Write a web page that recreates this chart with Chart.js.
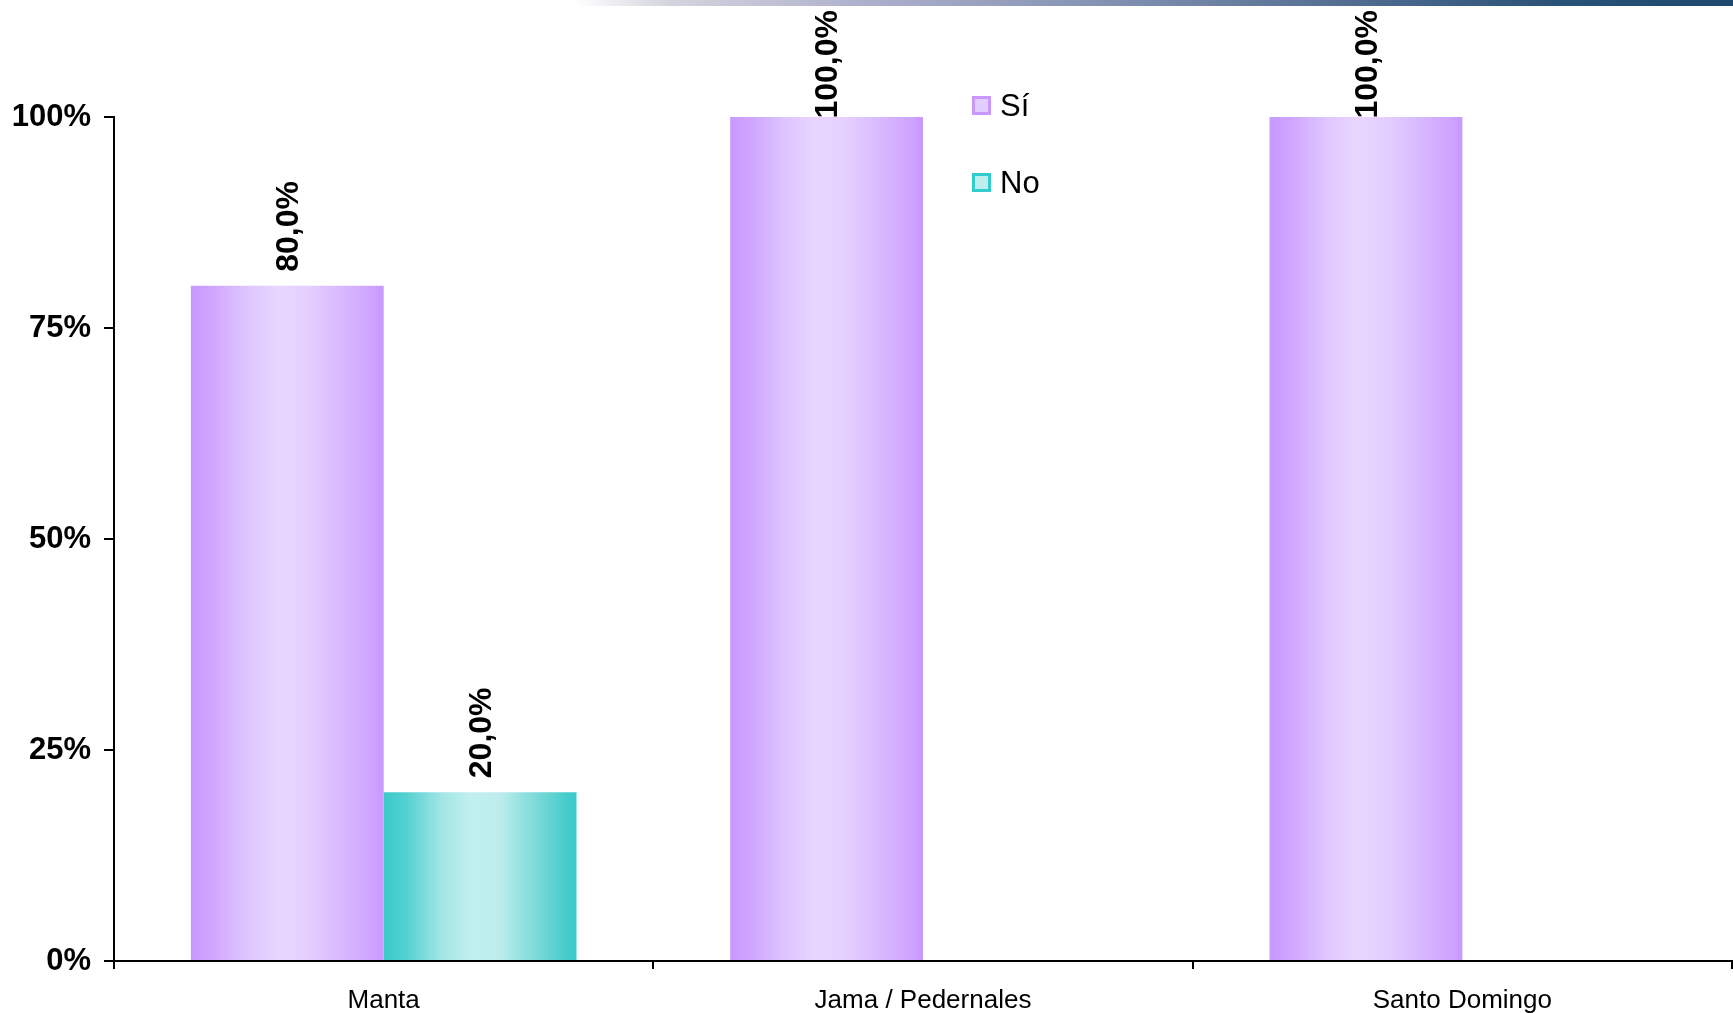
<!DOCTYPE html>
<html>
<head>
<meta charset="utf-8">
<script src="https://cdn.jsdelivr.net/npm/chart.js@4.4.1/dist/chart.umd.min.js"></script>
<style>
  html, body { margin: 0; padding: 0; background: #fff; }
  #wrap { position: relative; width: 1733px; height: 1013px; }
  /* decorative strip across the top right */
  #topbar {
    position: absolute; left: 575px; top: 0; width: 1158px; height: 6px;
    background: linear-gradient(to right, #ffffff 0%, #d4d5de 8%, #aeb0cc 25%, #8593b3 45%, #4f6b8f 68%, #2a5277 85%, #1d486f 100%);
  }
  canvas { position: absolute; left: 0; top: 0; }
</style>
</head>
<body>
<div id="wrap">
  <canvas id="chart" width="1733" height="1013"></canvas>
  <div id="topbar"></div>
</div>
<script>
const categories = ['Manta', 'Jama / Pedernales', 'Santo Domingo'];
const seriesNames = ['Sí', 'No'];
const siValues = [80, 100, 100];
const noValues = [20, 0, 0];
const yTicks = [0, 25, 50, 75, 100];

const FONT = '"Liberation Sans", Arial, sans-serif';
const CAT_PCT = 0.715;

// horizontal "cylinder" shading for each series
const purpleStops = [[0, '#c898ff'], [0.12, '#d0a7ff'], [0.3, '#dfc7ff'], [0.45, '#e8d6ff'], [0.6, '#e4d0ff'], [0.8, '#d7b6ff'], [0.95, '#cea2ff'], [1, '#c898ff']];
const tealStops = [[0, '#3acaca'], [0.12, '#55d1d1'], [0.3, '#a2e6e6'], [0.45, '#c2efef'], [0.6, '#bcedec'], [0.8, '#79d9d9'], [0.95, '#45cccc'], [1, '#3acaca']];

function barFill(stops) {
  return (c) => {
    const chart = c.chart;
    const x = chart.scales.x;
    if (!x || c.type !== 'data' || !chart.chartArea) return stops[0][1];
    const catW = (x.right - x.left) / chart.data.labels.length;
    const groupW = catW * CAT_PCT;
    const barW = groupW / chart.data.datasets.length;
    const left = x.getPixelForValue(c.dataIndex) - groupW / 2 + c.datasetIndex * barW;
    const g = chart.ctx.createLinearGradient(left, 0, left + barW, 0);
    stops.forEach(s => g.addColorStop(s[0], s[1]));
    return g;
  };
}

const legendColors = [
  { edge: '#c898ff', fill: '#e2cdff' },
  { edge: '#33cccc', fill: '#bdeeee' }
];

const valueLabels = {
  id: 'valueLabels',
  afterDatasetsDraw(chart) {
    const ctx = chart.ctx;
    ctx.save();
    ctx.font = 'bold 32px ' + FONT;
    ctx.fillStyle = '#000';
    ctx.textBaseline = 'middle';
    ctx.textAlign = 'left';
    chart.data.datasets.forEach((ds, di) => {
      chart.getDatasetMeta(di).data.forEach((bar, i) => {
        const v = ds.data[i];
        if (!v) return;
        const txt = v.toFixed(1).replace('.', ',') + '%';
        const w = ctx.measureText(txt).width;
        let y = bar.y - 14;
        if (y - w < 10) y = 10 + w;
        ctx.save();
        ctx.translate(bar.x + 2, y);
        ctx.rotate(-Math.PI / 2);
        ctx.fillText(txt, 0, 0);
        ctx.restore();
      });
    });
    ctx.restore();
  }
};

const sideLegend = {
  id: 'sideLegend',
  afterDraw(chart) {
    const ctx = chart.ctx;
    ctx.save();
    ctx.font = '31px ' + FONT;
    ctx.textBaseline = 'middle';
    chart.data.datasets.forEach((ds, i) => {
      const x = 972, y = 96 + i * 77;
      const col = legendColors[i];
      ctx.fillStyle = col.edge;
      ctx.fillRect(x, y, 19, 19);
      ctx.fillStyle = col.fill;
      ctx.fillRect(x + 3, y + 3, 13, 13);
      ctx.fillStyle = '#000';
      ctx.fillText(ds.label, x + 28, y + 11);
    });
    ctx.restore();
  }
};

new Chart(document.getElementById('chart'), {
  type: 'bar',
  data: {
    labels: categories,
    datasets: [
      { label: seriesNames[0], data: siValues, backgroundColor: barFill(purpleStops) },
      { label: seriesNames[1], data: noValues, backgroundColor: barFill(tealStops) }
    ]
  },
  options: {
    responsive: false,
    animation: false,
    devicePixelRatio: 1,
    layout: { padding: { top: 117, right: 1, left: 0, bottom: 0 } },
    datasets: { bar: { categoryPercentage: CAT_PCT, barPercentage: 1.0, borderWidth: 0 } },
    plugins: { legend: { display: false }, tooltip: { enabled: false } },
    scales: {
      x: {
        offset: true,
        grid: { offset: true, drawOnChartArea: false, drawTicks: true, tickLength: 8, color: '#000', lineWidth: 2 },
        border: { color: '#000', width: 2 },
        ticks: { color: '#000', font: { family: FONT, size: 26 }, padding: 16, maxRotation: 0 },
        afterFit: (s) => { s.height = 52; }
      },
      y: {
        min: 0,
        max: 100,
        afterBuildTicks: (s) => { s.ticks = yTicks.map(v => ({ value: v })); },
        ticks: { color: '#000', font: { family: FONT, size: 31, weight: 'bold' }, padding: 13, callback: v => v + '%' },
        grid: { drawOnChartArea: false, tickLength: 10, color: '#000', lineWidth: 2 },
        border: { color: '#000', width: 2 },
        afterFit: (s) => { s.width = 114; }
      }
    }
  },
  plugins: [valueLabels, sideLegend]
});
</script>
</body>
</html>
